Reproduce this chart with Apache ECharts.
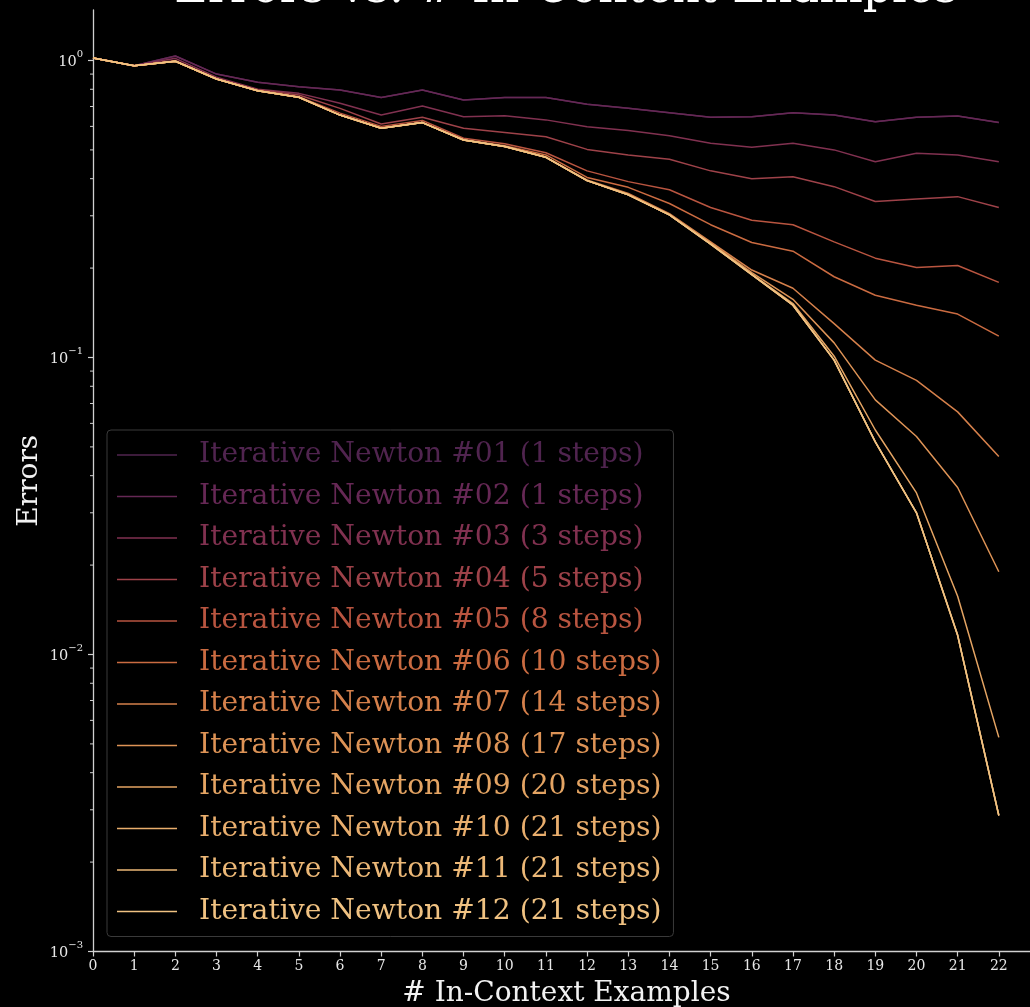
<!DOCTYPE html>
<html><head><meta charset="utf-8">
<script src="https://cdn.jsdelivr.net/npm/echarts@6/dist/echarts.min.js"></script>
<style>html,body{margin:0;padding:0;background:#000;} #c{width:1030px;height:1007px;}</style>
</head><body><div id="c"></div>
<script>
const examples = [0,1,2,3,4,5,6,7,8,9,10,11,12,13,14,15,16,17,18,19,20,21,22];
const newton01 = [1.02,0.96,1.035,0.90,0.845,0.816,0.796,0.75,0.796,0.736,0.75,0.75,0.712,0.69,0.667,0.644,0.647,0.667,0.655,0.622,0.644,0.65,0.618];
const newton02 = [1.02,0.96,1.035,0.90,0.845,0.816,0.796,0.75,0.796,0.736,0.75,0.75,0.712,0.69,0.667,0.644,0.647,0.667,0.655,0.622,0.644,0.65,0.618];
const newton03 = [1.02,0.96,1.017,0.878,0.80,0.775,0.718,0.655,0.703,0.647,0.652,0.631,0.598,0.581,0.558,0.526,0.51,0.526,0.50,0.456,0.487,0.481,0.456];
const newton04 = [1.02,0.96,1.0,0.87,0.797,0.765,0.69,0.611,0.644,0.591,0.572,0.554,0.502,0.481,0.465,0.425,0.40,0.406,0.376,0.335,0.342,0.348,0.32];
const newton05 = [1.02,0.96,0.994,0.866,0.793,0.755,0.665,0.60,0.628,0.547,0.524,0.489,0.425,0.391,0.367,0.32,0.29,0.28,0.245,0.216,0.201,0.204,0.179];
const newton06 = [1.02,0.96,0.994,0.866,0.791,0.752,0.655,0.594,0.618,0.541,0.516,0.481,0.404,0.374,0.33,0.28,0.244,0.228,0.187,0.162,0.150,0.140,0.118];
const newton07 = [1.02,0.96,0.994,0.866,0.791,0.752,0.655,0.592,0.618,0.54,0.513,0.473,0.396,0.357,0.305,0.245,0.197,0.171,0.130,0.098,0.0837,0.0656,0.0464];
const newton08 = [1.02,0.96,0.994,0.866,0.791,0.752,0.655,0.591,0.618,0.54,0.513,0.472,0.394,0.354,0.302,0.243,0.193,0.157,0.112,0.072,0.0542,0.0365,0.0190];
const newton09 = [1.02,0.96,0.994,0.866,0.791,0.752,0.655,0.591,0.618,0.54,0.513,0.472,0.394,0.353,0.302,0.242,0.191,0.152,0.101,0.057,0.035,0.0157,0.00526];
const newton10 = [1.02,0.96,0.994,0.866,0.791,0.752,0.655,0.591,0.618,0.54,0.513,0.472,0.394,0.353,0.302,0.241,0.190,0.150,0.098,0.052,0.030,0.0116,0.00287];
const newton11 = [1.02,0.96,0.994,0.866,0.791,0.752,0.655,0.591,0.618,0.54,0.513,0.472,0.394,0.353,0.302,0.241,0.190,0.150,0.098,0.052,0.030,0.0116,0.00287];
const newton12 = [1.02,0.96,0.994,0.866,0.791,0.752,0.655,0.591,0.618,0.54,0.513,0.472,0.394,0.353,0.302,0.241,0.190,0.150,0.098,0.052,0.030,0.0116,0.00287];
const seriesNames = [
  'Iterative Newton #01 (1 steps)','Iterative Newton #02 (1 steps)','Iterative Newton #03 (3 steps)',
  'Iterative Newton #04 (5 steps)','Iterative Newton #05 (8 steps)','Iterative Newton #06 (10 steps)',
  'Iterative Newton #07 (14 steps)','Iterative Newton #08 (17 steps)','Iterative Newton #09 (20 steps)',
  'Iterative Newton #10 (21 steps)','Iterative Newton #11 (21 steps)','Iterative Newton #12 (21 steps)'];
const seriesValues = [newton01,newton02,newton03,newton04,newton05,newton06,newton07,newton08,newton09,newton10,newton11,newton12];
const seriesColors = ['#50244f','#662855','#813150','#9e4249','#b95540','#ca6b41','#d5804b','#dd9356','#e4a463','#e9ae6d','#ecb877','#f0c282'];
const titleText = 'Errors vs. # In-Context Examples';
const xName = '# In-Context Examples';
const yName = 'Errors';

const FONT = 'DejaVu Serif';
const AX = '#d0d0d0';
const chart = echarts.init(document.getElementById('c'), null, {renderer:'canvas'});

const series = seriesNames.map((n,i)=>({
  name:n, type:'line', color:seriesColors[i], showSymbol:false, symbol:'none', smooth:false,
  lineStyle:{width:1.5, color:seriesColors[i]},
  data: examples.map((x,j)=>[x, seriesValues[i][j]]),
  z: 2+i
}));

chart.setOption({
  animation:false,
  backgroundColor:'#000',
  grid:{left:93, right:-10, top:10, bottom:55.5, containLabel:false, outerBoundsMode:'none'},
  xAxis:{type:'value', min:0, max:23, interval:1,
    axisLine:{onZero:false, lineStyle:{color:AX, width:1.3}},
    axisTick:{show:true, length:5, lineStyle:{color:AX, width:1.2}},
    axisLabel:{color:'#e8e8e8', fontFamily:FONT, fontSize:14, margin:8},
    splitLine:{show:false},
    name:xName, nameLocation:'middle', nameGap:28, nameMoveOverlap:false,
    nameTextStyle:{color:'#f2f2f2', fontFamily:FONT, fontSize:28}
  },
  yAxis:{type:'log', logBase:10, min:0.001, max:Math.pow(10,0.17),
    axisLine:{show:true, lineStyle:{color:AX, width:1.3}},
    axisTick:{show:false},
    axisLabel:{color:'#e8e8e8', margin:10,
      formatter:function(v){const e=Math.log10(v);const r=Math.round(e); if(Math.abs(e-r)>1e-6) return ''; return '{b|10}{s|'+(r<0?'\u2212'+(-r):r)+'}';},
      rich:{b:{fontFamily:FONT,fontSize:14.5,color:'#e8e8e8',lineHeight:22,padding:[4,0,0,0]},
            s:{fontFamily:FONT,fontSize:10,color:'#e8e8e8',lineHeight:11,verticalAlign:'top'}}},
    splitLine:{show:false},
    name:yName, nameLocation:'middle', nameGap:49, nameMoveOverlap:false,
    nameTextStyle:{color:'#f2f2f2', fontFamily:FONT, fontSize:28}
  },
  legend:{orient:'vertical', left:107, top:430, icon:'rect', itemWidth:60, itemHeight:1.5, itemGap:9.5,
    padding:[9,12,9,10], backgroundColor:'#000', borderColor:'#3a3a3a', borderWidth:1, borderRadius:4,
    selectedMode:false,
    textStyle:{fontFamily:FONT, fontSize:28.2, lineHeight:32, padding:[0,0,0,17]},
    data: seriesNames.map((n,i)=>({name:n, textStyle:{color:seriesColors[i]}}))
  },
  series: series
});

// y ticks (major + matplotlib-style minor) placed with the axis' own scale
const gfx = [];
const x0 = chart.convertToPixel({xAxisIndex:0}, 0);
const ext = [0.001, Math.pow(10,0.17)];
for (let k=-3;k<=0;k++){
  for (let m=1;m<=9;m++){
    const v = m*Math.pow(10,k);
    if (v<ext[0]-1e-12 || v>ext[1]) continue;
    const py = chart.convertToPixel({yAxisIndex:0}, v);
    const len = m===1?5:3;
    gfx.push({type:'line', shape:{x1:x0-len, y1:py, x2:x0, y2:py}, style:{stroke:AX, lineWidth:m===1?1.2:1}, silent:true, z:10});
  }
}
gfx.push({type:'text', x:566, y:-10, style:{text:titleText, fill:'#ffffff', font:'46px "DejaVu Serif"', align:'center', verticalAlign:'middle'}, silent:true, z:10});
chart.setOption({graphic:gfx});
</script>
</body></html>
